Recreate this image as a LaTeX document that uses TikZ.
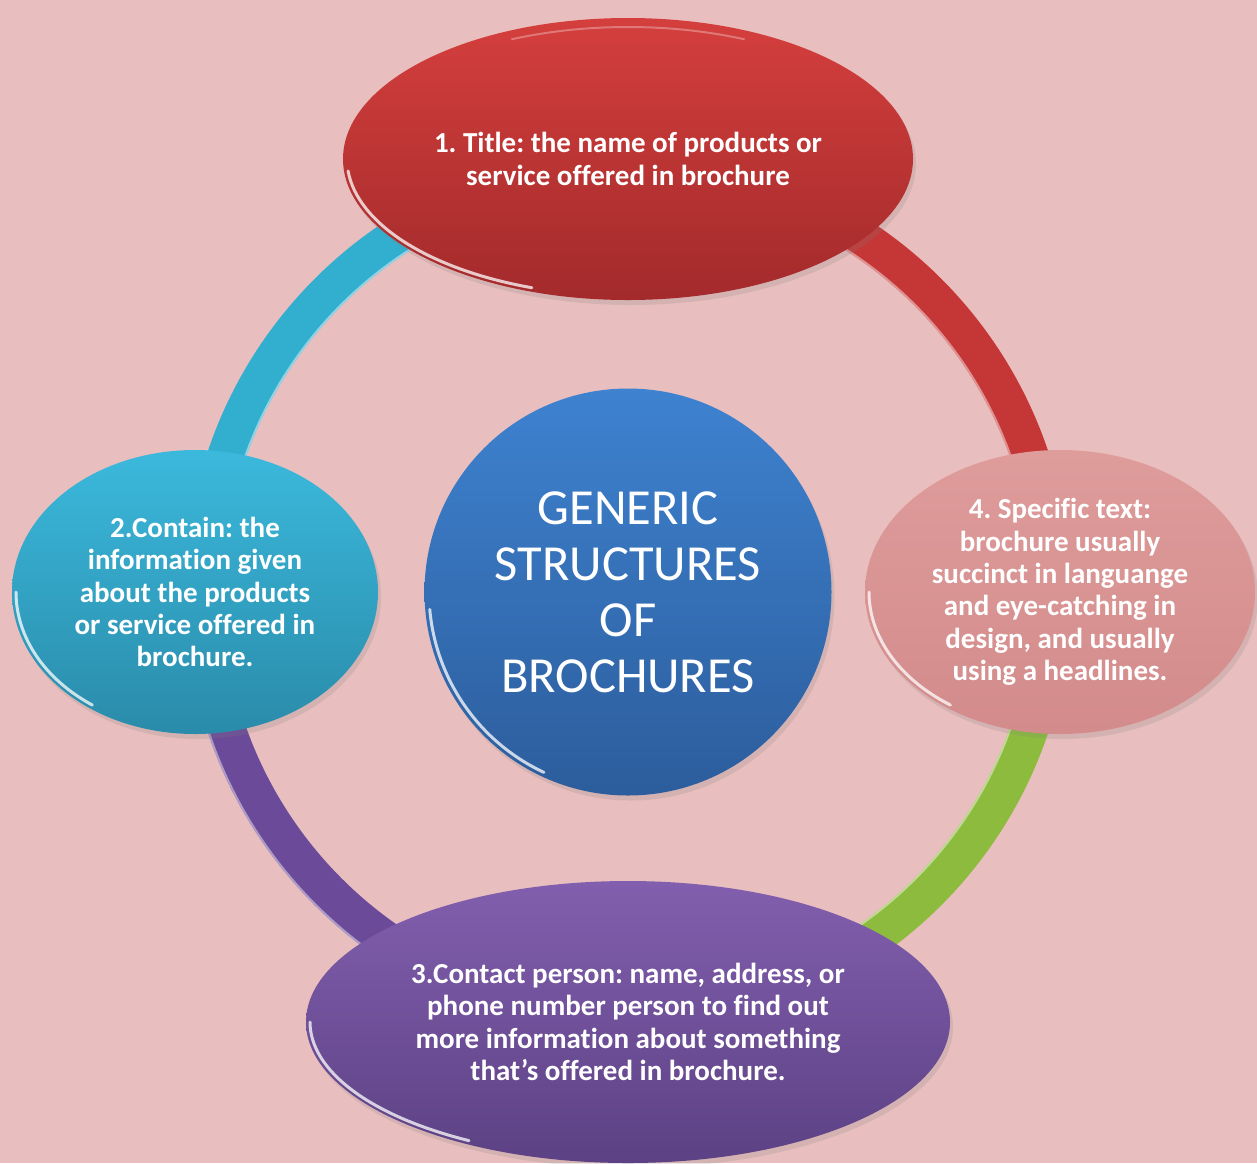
\documentclass[tikz,border=0pt]{standalone}
\usepackage{fontspec}
\setmainfont{Carlito}[Ligatures=NoCommon]
\usetikzlibrary{shapes.geometric,shadows}
\definecolor{bg}{HTML}{E8BEBE}
\definecolor{redtop}{HTML}{D43F3D}
\definecolor{redbot}{HTML}{A32A2B}
\definecolor{cyantop}{HTML}{3BB9DC}
\definecolor{cyanbot}{HTML}{2A8BAA}
\definecolor{pinktop}{HTML}{DE9C9B}
\definecolor{pinkbot}{HTML}{D38B8B}
\definecolor{purptop}{HTML}{825FAE}
\definecolor{purpbot}{HTML}{5C4184}
\definecolor{bluetop}{HTML}{3E82D0}
\definecolor{bluebot}{HTML}{2C5D9C}
\definecolor{arcred}{HTML}{C53636}
\definecolor{arccyan}{HTML}{32AECF}
\definecolor{arcgreen}{HTML}{8CBB3E}
\definecolor{arcpurp}{HTML}{6B4B99}
\frenchspacing
\begin{document}
\begin{tikzpicture}[x=1pt,y=1pt,
  bubble/.style={ellipse, inner sep=0pt, drop shadow={shadow xshift=3pt, shadow yshift=-5pt, opacity=0.18}},
  btext/.style={text=white, font=\bfseries\fontsize{29}{32.3}\selectfont, align=center, inner sep=0pt},
  ctext/.style={text=white, font=\fontsize{50.5}{56}\selectfont, align=center, inner sep=0pt},
  ringarc/.style={line width=38pt},
  arcshine/.style={white, opacity=0.45, line width=2pt},
  rim/.style={white, opacity=0.75, line width=3pt, line cap=round}]
\fill[bg] (0,0) rectangle (1257,-1163);
\useasboundingbox (0,0) rectangle (1257,-1163);
\coordinate (hub) at (628,-592);
% ring segments
\draw[ringarc, arcred] ([shift={(90:424)}]hub) arc[start angle=90, end angle=0, radius=424];
\draw[ringarc, arccyan] ([shift={(90:424)}]hub) arc[start angle=90, end angle=180, radius=424];
\draw[ringarc, arcpurp] ([shift={(180:424)}]hub) arc[start angle=180, end angle=270, radius=424];
\draw[ringarc, arcgreen] ([shift={(270:424)}]hub) arc[start angle=270, end angle=360, radius=424];
\draw[arcshine] ([shift={(88:406)}]hub) arc[start angle=88, end angle=2, radius=406];
\draw[arcshine] ([shift={(92:406)}]hub) arc[start angle=92, end angle=178, radius=406];
\draw[arcshine] ([shift={(182:442)}]hub) arc[start angle=182, end angle=268, radius=442];
\draw[arcshine] ([shift={(272:406)}]hub) arc[start angle=272, end angle=358, radius=406];
% bubbles
\node[bubble, minimum width=570pt, minimum height=282pt, top color=redtop, bottom color=redbot] (n1) at (628,-159) {};
\node[bubble, minimum width=366pt, minimum height=284pt, top color=cyantop, bottom color=cyanbot] (n2) at (195,-592) {};
\node[bubble, minimum width=390pt, minimum height=284pt, top color=pinktop, bottom color=pinkbot] (n4) at (1060,-592) {};
\node[bubble, minimum width=644pt, minimum height=282pt, top color=purptop, bottom color=purpbot] (n3) at (628,-1022) {};
\node[circle, inner sep=0pt, minimum size=407pt, top color=bluetop, bottom color=bluebot,
  drop shadow={shadow xshift=3pt, shadow yshift=-5pt, opacity=0.18}] (hubc) at (hub) {};
% rims
\draw[rim] ([shift={(185:281 and 137)}]n1.center) arc[start angle=185, end angle=250, x radius=281, y radius=137];
\draw[rim] ([shift={(180:179 and 138)}]n2.center) arc[start angle=180, end angle=235, x radius=179, y radius=138];
\draw[rim] ([shift={(180:191 and 138)}]n4.center) arc[start angle=180, end angle=235, x radius=191, y radius=138];
\draw[rim] ([shift={(180:318 and 137)}]n3.center) arc[start angle=180, end angle=240, x radius=318, y radius=137];
\draw[rim] ([shift={(185:199)}]hubc.center) arc[start angle=185, end angle=245, radius=199];
\draw[white, opacity=0.3, line width=2pt] ([shift={(115:276 and 132)}]n1.center) arc[start angle=115, end angle=65, x radius=276, y radius=132];
% texts
\node[btext] (t1) at (n1.center) {1. Title: the name of products or\\service offered in brochure};
\node[btext] (t2) at (n2.center) {2.Contain: the\\information given\\about the products\\or service offered in\\brochure.};
\node[btext] (t4) at (n4.center) {4. Specific text:\\brochure usually\\succinct in languange\\and eye-catching in\\design, and usually\\using a headlines.};
\node[btext] (t3) at (n3.center) {3.Contact person: name, address, or\\phone number person to find out\\more information about something\\that’s offered in brochure.};
\node[ctext] (tc) at (hubc.center) {GENERIC\\STRUCTURES\\OF\\BROCHURES};
\end{tikzpicture}
\end{document}
